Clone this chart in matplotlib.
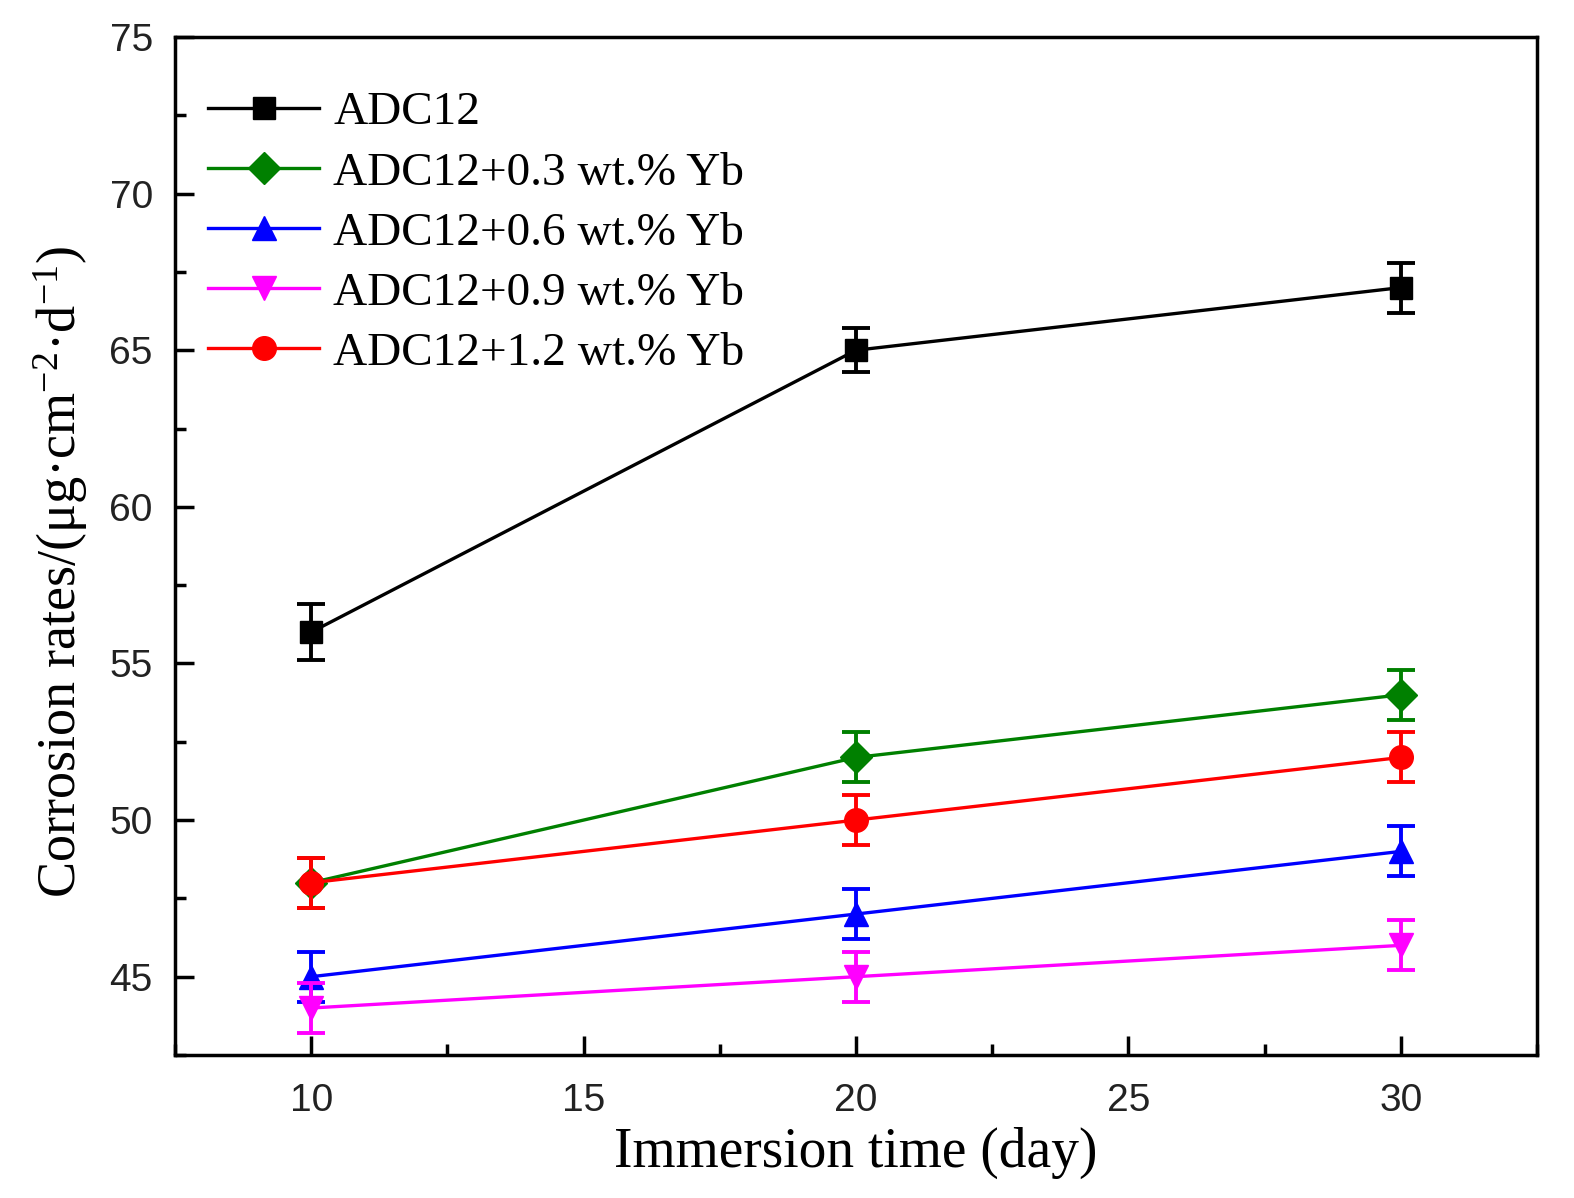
import matplotlib
matplotlib.use("Agg")
import matplotlib.pyplot as plt
from matplotlib.ticker import MultipleLocator

plt.rcParams["mathtext.fontset"] = "custom"
plt.rcParams["mathtext.rm"] = "Liberation Serif"
plt.rcParams["mathtext.it"] = "Liberation Serif:italic"
plt.rcParams["axes.unicode_minus"] = False

days = [10, 20, 30]
labels = ["ADC12", "ADC12+0.3 wt.% Yb", "ADC12+0.6 wt.% Yb", "ADC12+0.9 wt.% Yb", "ADC12+1.2 wt.% Yb"]
adc12 = [56, 65, 67]
yb03 = [48, 52, 54]
yb06 = [45, 47, 49]
yb09 = [44, 45, 46]
yb12 = [48, 50, 52]
err_adc12 = [0.9, 0.7, 0.8]
err_yb = [0.8, 0.8, 0.8]

series = [adc12, yb03, yb06, yb09, yb12]
errs = [err_adc12, err_yb, err_yb, err_yb, err_yb]
colors = ["black", "#008000", "#0000ff", "#ff00ff", "#ff0000"]
markers = ["s", "D", "^", "v", "o"]
msizes = [16, 16, 17, 17, 17]

fig = plt.figure(figsize=(15.74, 11.98), dpi=100)
ax = fig.add_axes([175/1574, 1-1055/1198, (1537-175)/1574, (1055-37)/1198])

for y, e, c, m, ms, lab in zip(series, errs, colors, markers, msizes, labels):
    ax.plot(days, y, color=c, marker=m, markersize=ms, lw=2.4, label=lab)
    ax.errorbar(days, y, yerr=e, fmt="none", ecolor=c,
                capsize=10, capthick=2.8, elinewidth=2.8)

ax.set_xlim(7.5, 32.5)
ax.set_ylim(42.5, 75)
ax.xaxis.set_major_locator(MultipleLocator(5))
ax.xaxis.set_minor_locator(MultipleLocator(2.5))
ax.yaxis.set_major_locator(MultipleLocator(5))
ax.yaxis.set_minor_locator(MultipleLocator(2.5))
ax.tick_params(which="both", direction="in", top=False, right=False, width=2.5)
ax.tick_params(which="major", length=14)
ax.tick_params(which="minor", length=8)
for lbl in ax.get_xticklabels() + ax.get_yticklabels():
    lbl.set_family("Liberation Sans")
    lbl.set_fontsize(28)
    lbl.set_color("#222222")
ax.tick_params(axis="x", pad=20)
ax.tick_params(axis="y", pad=16)
for s in ax.spines.values():
    s.set_linewidth(2.5)

ax.set_xlabel("Immersion time (day)", family="Liberation Serif", fontsize=40, labelpad=6)
ax.set_ylabel(r"Corrosion rates/(μg·cm$^{-2}$·d$^{-1}$)", family="Liberation Serif", fontsize=39, labelpad=14)
ax.yaxis.label.set_y(0.475)

leg = ax.legend(loc="upper left", frameon=False, prop={"family": "Liberation Serif", "size": 34},
                handlelength=2.35, labelspacing=0.36, borderaxespad=0.3, handletextpad=0.3,
                bbox_to_anchor=(0.0, 0.979))

fig.savefig("out.png", dpi=100)
